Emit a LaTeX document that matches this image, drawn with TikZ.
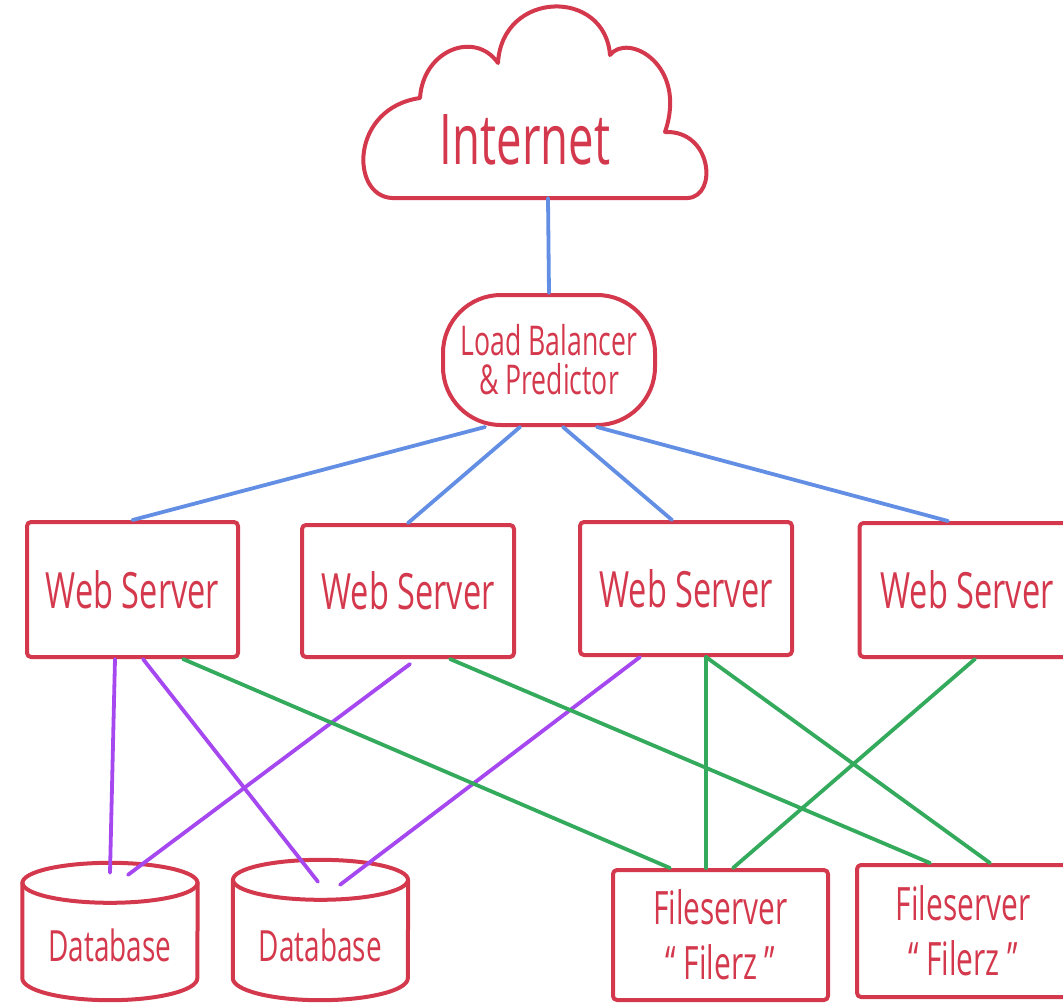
\documentclass[tikz,border=0pt]{standalone}
\usepackage{fontspec}
\setmainfont{Open Sans}[FakeStretch=0.65]
\usetikzlibrary{calc}

\definecolor{inkred}{RGB}{212,56,76}
\definecolor{inkblue}{RGB}{98,142,228}
\definecolor{inkgreen}{RGB}{52,170,92}
\definecolor{inkpurple}{RGB}{166,72,240}

\begin{document}
\begin{tikzpicture}[x=1pt,y=-1pt,
  outline/.style={draw=inkred, line width=4pt, line join=round, line cap=round},
  label/.style={text=inkred, inner sep=0pt, align=center},
  box/.style={outline, rectangle, rounded corners=4pt, inner sep=0pt, text=inkred, align=center},
  hidden/.style={rectangle, inner sep=0pt},
  wire/.style={line width=3.8pt, line cap=round},
  uplink/.style={wire, draw=inkblue},
  dblink/.style={wire, draw=inkpurple},
  filelink/.style={wire, draw=inkgreen},
  wsfont/.style={font=\fontsize{50}{56}\selectfont},
  fsfont/.style={font=\fontsize{46}{55}\selectfont},
  dbfont/.style={font=\fontsize{43}{48}\selectfont},
]
\useasboundingbox (0,0) rectangle (1063,1005);
\clip (0,0) rectangle (1063,1005);

% ---- Internet cloud ----
\draw[outline] (392,198)
  .. controls (350,196) and (350,108) .. (420,98)
  .. controls (423,50) and (475,30) .. (498,63)
  .. controls (502,-10) and (605,-12) .. (610,55)
  .. controls (628,32) and (688,65) .. (665,132)
  .. controls (712,130) and (718,196) .. (688,198)
  -- cycle;
\node[label, font=\fontsize{70}{76}\selectfont] (internet) at (525,140) {Internet};
\coordinate (cloudbase) at (548,198);

% ---- load balancer ----
\node[outline, rectangle, rounded corners=58pt, minimum width=212pt, minimum height=130pt,
      inner sep=0pt, text=inkred, align=center, font=\fontsize{41}{39}\selectfont]
      (lb) at (549,360) {Load Balancer\\\& Predictor};

% ---- web servers ----
\node[box, wsfont, minimum width=211pt, minimum height=135pt] (ws1) at (132.5,589.5) {Web Server};
\node[box, wsfont, minimum width=212pt, minimum height=132pt] (ws2) at (408,591) {Web Server};
\node[box, wsfont, minimum width=212pt, minimum height=133pt] (ws3) at (686,588.5) {Web Server};
\node[box, wsfont, minimum width=215pt, minimum height=134pt] (ws4) at (967,590) {Web Server};

% ---- file servers ----
\node[box, fsfont, minimum width=215pt, minimum height=130pt] (fs1) at (720.5,935) {Fileserver\\“\,Filerz\,”};
\node[box, fsfont, minimum width=212pt, minimum height=132pt] (fs2) at (963,931) {Fileserver\\“\,Filerz\,”};

% ---- databases (cylinders drawn round an empty frame node) ----
\node[hidden, minimum width=175pt, minimum height=138pt] (db1) at (110,931) {};
\node[hidden, minimum width=175pt, minimum height=141pt] (db2) at (320.5,929.5) {};
\foreach \d in {db1,db2}{
  \draw[outline] ([yshift=-21pt]\d.north) ellipse [x radius=87.5pt, y radius=20pt];
  \draw[outline] ([yshift=-21pt]\d.north west) -- ([yshift=22pt]\d.south west)
     arc[start angle=180, end angle=360, x radius=87.5pt, y radius=22pt]
     -- ([yshift=-21pt]\d.north east);
}
\node[label, dbfont] (db1text) at ([yshift=-14pt]db1.center) {Database};
\node[label, dbfont] (db2text) at ([yshift=-16pt]db2.center) {Database};

% ---- uplinks ----
\draw[uplink] (cloudbase) -- (lb.north);
\draw[uplink] ([xshift=-64pt]lb.south) -- (ws1.north);
\draw[uplink] ([xshift=-29pt]lb.south) -- (ws2.north);
\draw[uplink] ([xshift=14pt]lb.south) -- ([xshift=-14pt]ws3.north);
\draw[uplink] ([xshift=48pt]lb.south) -- ([xshift=-19pt]ws4.north);

% ---- database links ----
\draw[dblink] ([xshift=-17.5pt]ws1.south) -- ([yshift=-11pt]db1.north);
\draw[dblink] ([xshift=10.5pt]ws1.south) -- ([xshift=-2.5pt,yshift=-23pt]db2.north);
\draw[dblink] ([xshift=2pt,yshift=-5pt]ws2.south) -- ([xshift=18pt,yshift=-13pt]db1.north);
\draw[dblink] ([xshift=-46pt]ws3.south) -- ([xshift=19.5pt,yshift=-26pt]db2.north);

% ---- file server links ----
\draw[filelink] ([xshift=50.5pt]ws1.south) -- ([xshift=-50.5pt]fs1.north);
\draw[filelink] ([xshift=42pt]ws2.south) -- ([xshift=-33pt]fs2.north);
\draw[filelink] ([xshift=20pt]ws3.south) -- ([xshift=-14.5pt]fs1.north);
\draw[filelink] ([xshift=20pt]ws3.south) -- ([xshift=27pt]fs2.north);
\draw[filelink] ([xshift=8pt]ws4.south) -- ([xshift=12.5pt]fs1.north);
\end{tikzpicture}
\end{document}
